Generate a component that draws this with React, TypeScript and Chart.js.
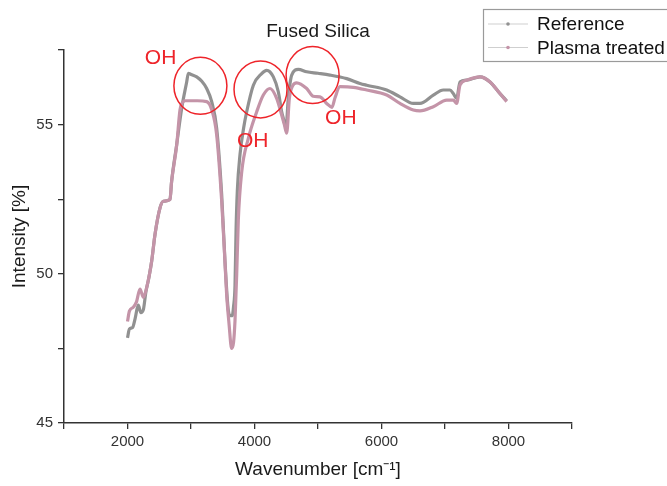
import React, { useEffect, useRef } from 'react';
import { Chart, registerables } from 'chart.js';

Chart.register(...registerables);

// ---- data ----
const seriesNames = ['Reference', 'Plasma treated'];

const refWavenumbers = [
  2000, 2030, 2080, 2120, 2170, 2210, 2250, 2290, 2330, 2381, 2433, 2512, 2564, 2669, 2695,
  2774, 2853, 2932, 2958, 3000, 3090, 3170, 3247, 3326, 3404, 3483, 3535, 3588, 3620, 3650,
  3670, 3693, 3710, 3730, 3772, 3830, 3877, 3982, 4113, 4192, 4297, 4375, 4428, 4454, 4496,
  4532, 4586, 4690, 4822, 5000, 5189, 5452, 5661, 5767, 6082, 6291, 6501, 6606, 6816, 6973,
  7079, 7131, 7184, 7236, 7341, 7551, 7709, 7866, 7971,
];
const refIntensity = [
  47.85, 48.15, 48.2, 48.5, 48.95, 48.7, 48.8, 49.4, 49.8, 50.43, 51.32, 52.21, 52.43, 52.49, 53.1,
  54.32, 55.54, 56.43, 56.72, 56.68, 56.6, 56.45, 56.21, 55.77, 54.88, 52.66, 50.43, 48.77, 48.6, 48.6,
  48.9, 49.6, 51.5, 52.8, 54.0, 54.9, 55.43, 56.32, 56.71, 56.82, 56.6, 56.1, 55.43, 55.21, 54.9,
  55.88, 56.66, 56.85, 56.77, 56.72, 56.66, 56.54, 56.38, 56.32, 56.16, 55.93, 55.71, 55.71, 55.99, 56.16,
  56.16, 56.04, 55.88, 56.43, 56.49, 56.6, 56.43, 56.04, 55.8,
];

const plasmaWavenumbers = [
  2000, 2030, 2091, 2140, 2197, 2249, 2302, 2381, 2433, 2512, 2564, 2669, 2695, 2774, 2827,
  2870, 2906, 2984, 3100, 3247, 3326, 3404, 3483, 3530, 3561, 3600, 3640, 3670, 3693, 3720,
  3745, 3798, 3903, 4035, 4139, 4244, 4349, 4428, 4470, 4507, 4549, 4600, 4664, 4822, 4926,
  5031, 5136, 5220, 5268, 5346, 5556, 5767, 6082, 6291, 6501, 6606, 6816, 7027, 7131, 7184,
  7236, 7341, 7551, 7709, 7866, 7971,
];
const plasmaIntensity = [
  48.4, 48.75, 48.88, 49.05, 49.49, 49.21, 49.54, 50.43, 51.32, 52.21, 52.43, 52.49, 53.1, 54.3, 55.5,
  55.75, 55.8, 55.8, 55.8, 55.77, 55.5, 54.66, 52.44, 50.6, 49.32, 48.3, 47.5, 47.7, 48.43, 50.0,
  51.8, 53.4, 54.54, 55.43, 55.99, 56.21, 55.88, 55.32, 55.0, 54.71, 55.88, 56.3, 56.4, 56.21, 55.95,
  55.93, 55.71, 55.58, 55.9, 56.27, 56.25, 56.16, 55.99, 55.71, 55.49, 55.46, 55.6, 55.82, 55.82, 55.71,
  56.32, 56.49, 56.6, 56.43, 56.04, 55.77,
];

const xTickLabels = [2000, 4000, 6000, 8000];
const yTickLabels = [45, 50, 55];

// annotations: OH circles (data-space centres) and OH labels
const ohCircleCenters = [
  [3148, 56.3],
  [4095, 56.18],
  [4915, 56.66],
];
const ohLabelPositions = [
  [2521, 57.23],
  [3972, 54.43],
  [5360, 55.23],
];

const chartTitle = 'Fused Silica';
const xTitle = 'Wavenumber [cm\u207B\u00B9]';
const yTitle = 'Intensity [%]';

const FONT = "'Liberation Sans', Arial, sans-serif";
const GREY = 'rgb(145,145,145)';
const PINK = 'rgb(196,148,168)';
const RED = 'rgb(238,36,42)';
const AXIS = '#333333';

const overlayPlugin = {
  id: 'overlay',
  afterDatasetsDraw(chart: any) {
    const { ctx, scales, chartArea } = chart;
    const xs = scales.x;
    const ys = scales.y;
    ctx.save();
    // OH circles
    ctx.strokeStyle = RED;
    ctx.lineWidth = 1.5;
    for (const [cx, cy] of ohCircleCenters) {
      ctx.beginPath();
      ctx.ellipse(xs.getPixelForValue(cx), ys.getPixelForValue(cy), 26.5, 28.5, 0, 0, Math.PI * 2);
      ctx.stroke();
    }
    // OH labels
    ctx.fillStyle = RED;
    ctx.font = `21px ${FONT}`;
    ctx.textAlign = 'center';
    ctx.textBaseline = 'middle';
    for (const [lx, ly] of ohLabelPositions) {
      ctx.fillText('OH', xs.getPixelForValue(lx), ys.getPixelForValue(ly));
    }
    // Title
    ctx.fillStyle = '#1a1a1a';
    ctx.font = `19px ${FONT}`;
    ctx.fillText(chartTitle, (chartArea.left + chartArea.right) / 2, 32);

    // Legend
    const bx = 483.5;
    const by = 9.5;
    ctx.strokeStyle = '#9a9a9a';
    ctx.lineWidth = 1.2;
    ctx.strokeRect(bx, by, 220, 52);
    const rows = [
      { name: seriesNames[0], color: GREY, y: 24 },
      { name: seriesNames[1], color: PINK, y: 47.5 },
    ];
    for (const r of rows) {
      ctx.strokeStyle = '#cfcfcf';
      ctx.lineWidth = 1;
      ctx.beginPath();
      ctx.moveTo(488, r.y);
      ctx.lineTo(528, r.y);
      ctx.stroke();
      ctx.fillStyle = r.color;
      ctx.beginPath();
      ctx.arc(508, r.y, 1.8, 0, Math.PI * 2);
      ctx.fill();
      ctx.fillStyle = '#111';
      ctx.font = `19px ${FONT}`;
      ctx.textAlign = 'left';
      ctx.textBaseline = 'middle';
      ctx.fillText(r.name, 537, r.y + 1);
    }
    ctx.restore();
  },
};

export default function App() {
  const canvasRef = useRef<HTMLCanvasElement | null>(null);

  useEffect(() => {
    const canvas = canvasRef.current;
    if (!canvas) return;
    const refData = refWavenumbers.map((x, i) => ({ x, y: refIntensity[i] }));
    const plasmaData = plasmaWavenumbers.map((x, i) => ({ x, y: plasmaIntensity[i] }));

    const chart = new Chart(canvas, {
      type: 'line',
      data: {
        datasets: [
          {
            label: seriesNames[0],
            data: refData,
            borderColor: GREY,
            backgroundColor: GREY,
            borderWidth: 3.2,
            pointRadius: 0,
            cubicInterpolationMode: 'monotone',
            order: 1,
          },
          {
            label: seriesNames[1],
            data: plasmaData,
            borderColor: PINK,
            backgroundColor: PINK,
            borderWidth: 3.2,
            pointRadius: 0,
            cubicInterpolationMode: 'monotone',
            order: 0,
          },
        ],
      },
      options: {
        animation: false,
        responsive: false,
        maintainAspectRatio: false,
        layout: { padding: { top: 50, right: 95, left: 0, bottom: 0 } },
        plugins: {
          legend: { display: false },
          title: { display: false },
          tooltip: { enabled: false },
        },
        scales: {
          x: {
            type: 'linear',
            min: 1000,
            max: 9000,
            afterFit: (s: any) => {
              s.height = 63;
            },
            ticks: {
              stepSize: 1000,
              autoSkip: false,
              maxRotation: 0,
              padding: 4,
              color: AXIS,
              font: { family: FONT, size: 15 },
              callback: (v: any) => (xTickLabels.includes(Number(v)) ? String(v) : ''),
            },
            grid: {
              display: true,
              drawOnChartArea: false,
              drawTicks: true,
              tickLength: 6,
              color: AXIS,
              lineWidth: 1.3,
            },
            border: { display: true, color: AXIS, width: 1.5 },
            title: {
              display: true,
              text: xTitle,
              color: '#1a1a1a',
              font: { family: FONT, size: 19 },
              padding: { top: 0, bottom: 5 },
            },
          },
          y: {
            type: 'linear',
            min: 45,
            max: 57.5,
            afterFit: (s: any) => {
              s.width = 64;
            },
            ticks: {
              stepSize: 2.5,
              autoSkip: false,
              padding: 5,
              color: AXIS,
              font: { family: FONT, size: 15 },
              callback: (v: any) => (yTickLabels.includes(Number(v)) ? String(v) : ''),
            },
            grid: {
              display: true,
              drawOnChartArea: false,
              drawTicks: true,
              tickLength: 6,
              color: AXIS,
              lineWidth: 1.3,
            },
            border: { display: true, color: AXIS, width: 1.5 },
            title: {
              display: true,
              text: yTitle,
              color: '#1a1a1a',
              font: { family: FONT, size: 19 },
              padding: { top: 8, bottom: 0 },
            },
          },
        },
      },
      plugins: [overlayPlugin],
    } as any);

    return () => {
      chart.destroy();
    };
  }, []);

  return (
    <div style={{ position: 'fixed', left: 0, top: 0, width: 667, height: 486, background: '#fff' }}>
      <canvas ref={canvasRef} width={667} height={486} style={{ width: 667, height: 486, display: 'block' }} />
    </div>
  );
}
